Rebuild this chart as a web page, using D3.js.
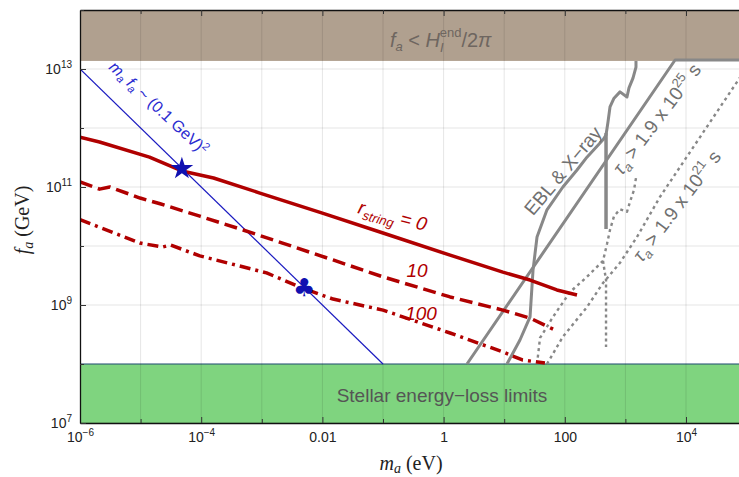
<!DOCTYPE html>
<html>
<head>
<meta charset="utf-8">
<script src="https://cdn.jsdelivr.net/npm/d3@7"></script>
<style>
  body { margin: 0; background: #fff; }
  svg { display: block; }
</style>
</head>
<body>
<div id="chart"></div>
<script>
// chart size and plot box
const WIDTH = 739;
const HEIGHT = 477;
const MARGIN = { left: 80, top: 10 };
const PLOT_W = 11 * 60.6;
const PLOT_H = 413;

// axis domains and tick decades
const X_DOMAIN = [1e-6, 1e5];
const Y_DOMAIN = [1e7, 1e14];
const X_DECADES = [-6, -5, -4, -3, -2, -1, 0, 1, 2, 3, 4, 5];
const Y_DECADES = [7, 8, 9, 10, 11, 12, 13, 14];
const X_LABELED = [-6, -4, -2, 0, 2, 4];
const Y_LABELED = [7, 9, 11, 13];

// excluded regions
const HUBBLE_FA = 1.37e13;   // f_a < H_I^end / 2pi above this
const STELLAR_FA = 1e8;      // stellar energy loss below this

// r_string curves (mass in eV, f_a in GeV)
const R0_MASS = [1e-6, 2.1e-6, 1.4e-5, 4.8e-5, 1.6e-4, 9.3e-4, 0.01, 0.1, 1.28, 9.5, 26.7, 74, 159];
const R0_FA = [7.0e11, 5.8e11, 3.2e11, 1.87e11, 1.42e11, 7.9e10, 3.6e10, 1.66e10, 7.0e9, 3.6e9, 2.65e9, 1.8e9, 1.48e9];
const R10_MASS = [1e-6, 2.1e-6, 3.1e-6, 9.8e-6, 2.1e-5, 9.5e-5, 4.9e-4, 2.2e-3, 0.015, 0.1, 1.28, 9.5, 26.7, 64];
const R10_FA = [1.22e11, 9.2e10, 1.0e11, 6.5e10, 5.2e10, 3.2e10, 1.87e10, 1.12e10, 5.8e9, 3.0e9, 1.37e9, 8.2e8, 6.0e8, 3.9e8];
const R100_MASS = [1e-6, 9.8e-6, 2.3e-5, 3.1e-5, 9.5e-5, 1.2e-3, 4.3e-3, 0.015, 0.1, 1.28, 9.5, 20, 47];
const R100_FA = [2.8e10, 1.12e10, 9.6e9, 1.04e10, 6.8e9, 3.5e9, 2.0e9, 1.26e9, 8.2e8, 3.35e8, 1.6e8, 1.17e8, 1.04e8];

// m_a f_a ~ (0.1 GeV)^2 line
const MF_MASS = [1e-6, 0.1];
const MF_FA = [1e13, 1e8];

// EBL & X-ray bound
const EBL_MASS = [11.1, 18.2, 26.7, 29.9, 34.8, 50.8, 93, 159, 232, 427, 479, 516, 557, 649, 815, 1062, 1146, 1334, 1495, 1495];
const EBL_FA = [1.0e8, 2.55e8, 6.3e8, 3.9e9, 1.42e10, 4.1e10, 1.0e11, 1.94e11, 3.2e11, 6.3e11, 7.6e11, 1.26e12, 2.27e12, 3.2e12, 4.1e12, 3.35e12, 4.8e12, 7.0e12, 1.08e13, 1.37e13];
const EBL_VERT_MASS = [479, 479];
const EBL_VERT_FA = [8.2e11, 1.94e10];

// lifetime bounds
const TAU25_MASS = [2.43, 6600, 1e5];
const TAU25_FA = [1.0e8, 1.42e13, 1.42e13];
const DOT_INNER_MASS = [34.8, 39, 64, 122, 232, 427, 497, 557, 649, 815, 1062, 1191, 1387, 1495];
const DOT_INNER_FA = [1.0e8, 2.76e8, 6.3e8, 1.66e9, 3.0e9, 5.6e9, 1.08e10, 1.87e10, 3.2e10, 4.2e10, 3.8e10, 5.6e10, 8.9e10, 1.42e11];
const DOT_VERT_MASS = [427, 479, 479];
const DOT_VERT_FA = [5.6e9, 2.65e9, 1.94e8];
const TAU21_MASS = [50.8, 93, 232, 427, 815, 1552, 3720, 9.4e4];
const TAU21_FA = [1.0e8, 2.9e8, 9.2e8, 2.36e9, 5.2e9, 1.42e10, 6.8e10, 9.6e12];

// benchmark points
const STAR = [4.8e-5, 2.05e11];
const CLUB = [5e-3, 2e9];

const RED = "#b00000";
const BLUE = "#1010b0";
const GRAY = "#888888";

var svg, plot, x, y;

setup();

function setup() {
  svg = d3.select("#chart").append("svg")
      .attr("width", WIDTH)
      .attr("height", HEIGHT);

  x = d3.scaleLog().domain(X_DOMAIN).range([MARGIN.left, MARGIN.left + PLOT_W]);
  y = d3.scaleLog().domain(Y_DOMAIN).range([MARGIN.top + PLOT_H, MARGIN.top]);

  svg.append("clipPath").attr("id", "clip")
    .append("rect")
      .attr("x", MARGIN.left).attr("y", MARGIN.top)
      .attr("width", PLOT_W).attr("height", PLOT_H);

  plot = svg.append("g").attr("clip-path", "url(#clip)");

  drawBands();
  drawGrid();
  drawCurves();
  drawMarkers();
  drawAxes();
  drawLabels();
}

function drawBands() {
  plot.append("rect")
      .attr("x", x(X_DOMAIN[0])).attr("width", x(X_DOMAIN[1]) - x(X_DOMAIN[0]))
      .attr("y", y(Y_DOMAIN[1])).attr("height", y(HUBBLE_FA) - y(Y_DOMAIN[1]))
      .attr("fill", "#b0a08f");

  plot.append("rect")
      .attr("x", x(X_DOMAIN[0])).attr("width", x(X_DOMAIN[1]) - x(X_DOMAIN[0]))
      .attr("y", y(STELLAR_FA)).attr("height", y(Y_DOMAIN[0]) - y(STELLAR_FA))
      .attr("fill", "#7fd47f");

  plot.append("line")
      .attr("x1", x(X_DOMAIN[0])).attr("x2", x(X_DOMAIN[1]))
      .attr("y1", y(STELLAR_FA)).attr("y2", y(STELLAR_FA))
      .attr("stroke", "#2a5a80").attr("stroke-width", 1.2);
}

function drawGrid() {
  plot.selectAll(".vgrid")
    .data(X_DECADES)
    .join("line")
      .attr("class", "vgrid")
      .attr("x1", d => x(Math.pow(10, d))).attr("x2", d => x(Math.pow(10, d)))
      .attr("y1", y(Y_DOMAIN[1])).attr("y2", y(Y_DOMAIN[0]))
      .attr("stroke", "rgba(0,0,0,0.1)").attr("stroke-width", 1);

  plot.selectAll(".hgrid")
    .data(Y_DECADES)
    .join("line")
      .attr("class", "hgrid")
      .attr("x1", x(X_DOMAIN[0])).attr("x2", x(X_DOMAIN[1]))
      .attr("y1", d => y(Math.pow(10, d))).attr("y2", d => y(Math.pow(10, d)))
      .attr("stroke", "rgba(0,0,0,0.1)").attr("stroke-width", 1);
}

function drawCurves() {
  const line = d3.line().x(d => x(d[0])).y(d => y(d[1]));

  const curves = [
    { m: TAU21_MASS, f: TAU21_FA, color: GRAY, w: 2.4, dash: "3,3.5" },
    { m: DOT_INNER_MASS, f: DOT_INNER_FA, color: GRAY, w: 2.4, dash: "3,3.5" },
    { m: DOT_VERT_MASS, f: DOT_VERT_FA, color: GRAY, w: 2.4, dash: "3,3" },
    { m: TAU25_MASS, f: TAU25_FA, color: GRAY, w: 3, dash: null },
    { m: EBL_MASS, f: EBL_FA, color: GRAY, w: 3, dash: null },
    { m: EBL_VERT_MASS, f: EBL_VERT_FA, color: GRAY, w: 3.5, dash: null },
    { m: MF_MASS, f: MF_FA, color: "#1a1ac0", w: 1.2, dash: null },
    { m: R0_MASS, f: R0_FA, color: RED, w: 3.5, dash: null },
    { m: R10_MASS, f: R10_FA, color: RED, w: 3.5, dash: "13,6" },
    { m: R100_MASS, f: R100_FA, color: RED, w: 3.5, dash: "11,5,3,5" }
  ];

  plot.selectAll(".curve")
    .data(curves)
    .join("path")
      .attr("class", "curve")
      .attr("d", c => line(d3.zip(c.m, c.f)))
      .attr("fill", "none")
      .attr("stroke", c => c.color)
      .attr("stroke-width", c => c.w)
      .attr("stroke-dasharray", c => c.dash)
      .attr("stroke-linejoin", "round");
}

function drawMarkers() {
  plot.append("path")
      .attr("d", d3.symbol().type(d3.symbolStar).size(160)())
      .attr("transform", `translate(${x(STAR[0])},${y(STAR[1])})`)
      .attr("fill", BLUE);

  plot.append("text")
      .attr("x", x(CLUB[0])).attr("y", y(CLUB[1]))
      .attr("dy", "0.36em")
      .attr("text-anchor", "middle")
      .attr("font-family", "DejaVu Sans")
      .attr("font-size", 25)
      .attr("fill", BLUE)
      .text("\u2663");
}

function powerLabel(sel, e) {
  sel.text(null);
  if (e === -2) { sel.text("0.01"); return; }
  if (e === 0) { sel.text("1"); return; }
  if (e === 2) { sel.text("100"); return; }
  sel.append("tspan").text("10");
  sel.append("tspan").attr("font-size", 10).attr("dy", -6)
     .text(String(e).replace("-", "\u2212"));
}

function drawAxes() {
  const xTicks = X_DECADES.map(d => Math.pow(10, d));
  const yTicks = Y_DECADES.map(d => Math.pow(10, d));

  const bottom = svg.append("g")
      .attr("transform", `translate(0,${MARGIN.top + PLOT_H})`)
      .call(d3.axisBottom(x).tickValues(xTicks).tickSizeInner(-6).tickSizeOuter(0).tickPadding(9));

  const top = svg.append("g")
      .attr("transform", `translate(0,${MARGIN.top})`)
      .call(d3.axisTop(x).tickValues(xTicks).tickSizeInner(-6).tickSizeOuter(0).tickFormat(""));

  const left = svg.append("g")
      .attr("transform", `translate(${MARGIN.left},0)`)
      .call(d3.axisLeft(y).tickValues(yTicks).tickSizeInner(-6).tickSizeOuter(0).tickPadding(8));

  [bottom, top, left].forEach(g => {
    g.select(".domain").attr("stroke", "#111").attr("stroke-width", 1.3);
    g.selectAll(".tick line").attr("stroke", "#333");
    g.selectAll("text")
      .attr("font-family", "Liberation Sans, Arial, sans-serif")
      .attr("font-size", 14)
      .attr("fill", "#222");
  });

  bottom.selectAll(".tick").each(function(d) {
    const e = Math.round(Math.log10(d));
    const t = d3.select(this).select("text");
    if (X_LABELED.includes(e)) powerLabel(t, e); else t.text(null);
    if (!X_LABELED.includes(e)) d3.select(this).select("line").attr("y2", -4);
  });
  top.selectAll(".tick").each(function(d) {
    const e = Math.round(Math.log10(d));
    if (!X_LABELED.includes(e)) d3.select(this).select("line").attr("y2", 4);
  });
  left.selectAll(".tick").each(function(d) {
    const e = Math.round(Math.log10(d));
    const t = d3.select(this).select("text");
    if (Y_LABELED.includes(e)) powerLabel(t, e); else t.text(null);
    if (!Y_LABELED.includes(e)) d3.select(this).select("line").attr("x2", 4);
  });
}

function drawLabels() {
  const sans = "Liberation Sans, Arial, sans-serif";
  const serif = "Liberation Serif, Times New Roman, serif";

  // axis titles
  const xt = svg.append("text")
      .attr("x", 411).attr("y", 470)
      .attr("text-anchor", "middle")
      .attr("font-family", serif).attr("font-size", 20).attr("fill", "#222");
  xt.append("tspan").attr("font-style", "italic").text("m");
  xt.append("tspan").attr("font-style", "italic").attr("font-size", 14).attr("dy", 3).text("a");
  xt.append("tspan").attr("dy", -3).text(" (eV)");

  const yt = svg.append("text")
      .attr("transform", "translate(29,220) rotate(-90)")
      .attr("text-anchor", "middle")
      .attr("font-family", serif).attr("font-size", 20).attr("fill", "#222");
  yt.append("tspan").attr("font-style", "italic").text("f");
  yt.append("tspan").attr("font-style", "italic").attr("font-size", 14).attr("dy", 4).text("a");
  yt.append("tspan").attr("dy", -4).text(" (GeV)");

  // band labels
  const hub = svg.append("text")
      .attr("x", 390).attr("y", 47)
      .attr("font-family", sans).attr("font-size", 20).attr("fill", "#6e6660");
  hub.append("tspan").attr("font-style", "italic").text("f");
  hub.append("tspan").attr("font-style", "italic").attr("font-size", 13).attr("dy", 4).text("a");
  hub.append("tspan").attr("dy", -4).text(" < ");
  hub.append("tspan").attr("font-style", "italic").text("H");
  hub.append("tspan").attr("font-style", "italic").attr("font-size", 13).attr("dy", 5).text("I");
  hub.append("tspan").attr("font-size", 13).attr("dx", -4).attr("dy", -15).text("end");
  hub.append("tspan").attr("dy", 10).text("/2");
  hub.append("tspan").attr("font-style", "italic").text("\u03c0");

  svg.append("text")
      .attr("x", 442).attr("y", 402)
      .attr("text-anchor", "middle")
      .attr("font-family", sans).attr("font-size", 19).attr("fill", "#555")
      .text("Stellar energy\u2212loss limits");

  // r_string labels
  const r0 = svg.append("text")
      .attr("transform", "translate(391,222) rotate(15)")
      .attr("text-anchor", "middle")
      .attr("font-family", sans).attr("font-size", 19).attr("font-style", "italic").attr("fill", RED);
  r0.append("tspan").text("r");
  r0.append("tspan").attr("font-size", 13).attr("dy", 5).text("string");
  r0.append("tspan").attr("dy", -5).text(" = 0");

  svg.append("text")
      .attr("x", 417).attr("y", 277)
      .attr("text-anchor", "middle")
      .attr("font-family", sans).attr("font-size", 19).attr("font-style", "italic").attr("fill", RED)
      .text("10");

  svg.append("text")
      .attr("x", 421).attr("y", 320)
      .attr("text-anchor", "middle")
      .attr("font-family", sans).attr("font-size", 19).attr("font-style", "italic").attr("fill", RED)
      .text("100");

  // m_a f_a label along the blue line
  const mf = svg.append("text")
      .attr("transform", "translate(155,112) rotate(43)")
      .attr("text-anchor", "middle")
      .attr("font-family", sans).attr("font-size", 16).attr("fill", "#2a2ad0");
  mf.append("tspan").attr("font-style", "italic").text("m");
  mf.append("tspan").attr("font-style", "italic").attr("font-size", 11).attr("dy", 3).text("a");
  mf.append("tspan").attr("font-style", "italic").attr("dy", -3).text(" f");
  mf.append("tspan").attr("font-style", "italic").attr("font-size", 11).attr("dy", 3).text("a");
  mf.append("tspan").attr("dy", -3).text(" ~ (0.1 GeV)");
  mf.append("tspan").attr("font-size", 11).attr("dy", -6).text("2");

  // gray bound labels
  svg.append("text")
      .attr("transform", "translate(568,175) rotate(-50)")
      .attr("text-anchor", "middle")
      .attr("font-family", sans).attr("font-size", 19).attr("fill", "#707070")
      .text("EBL & X\u2212ray");

  tauLabel("translate(662,123) rotate(-53)", "25");
  tauLabel("translate(682,210) rotate(-53)", "21");

  function tauLabel(tf, ex) {
    const t = svg.append("text")
        .attr("transform", tf)
        .attr("text-anchor", "middle")
        .attr("font-family", sans).attr("font-size", 19).attr("fill", "#707070");
    t.append("tspan").attr("font-style", "italic").text("\u03c4");
    t.append("tspan").attr("font-style", "italic").attr("font-size", 13).attr("dy", 4).text("a");
    t.append("tspan").attr("dy", -4).text(" > 1.9 x 10");
    t.append("tspan").attr("font-size", 13).attr("dy", -8).text(ex);
    t.append("tspan").attr("dy", 8).text(" s");
  }
}
</script>
</body>
</html>
